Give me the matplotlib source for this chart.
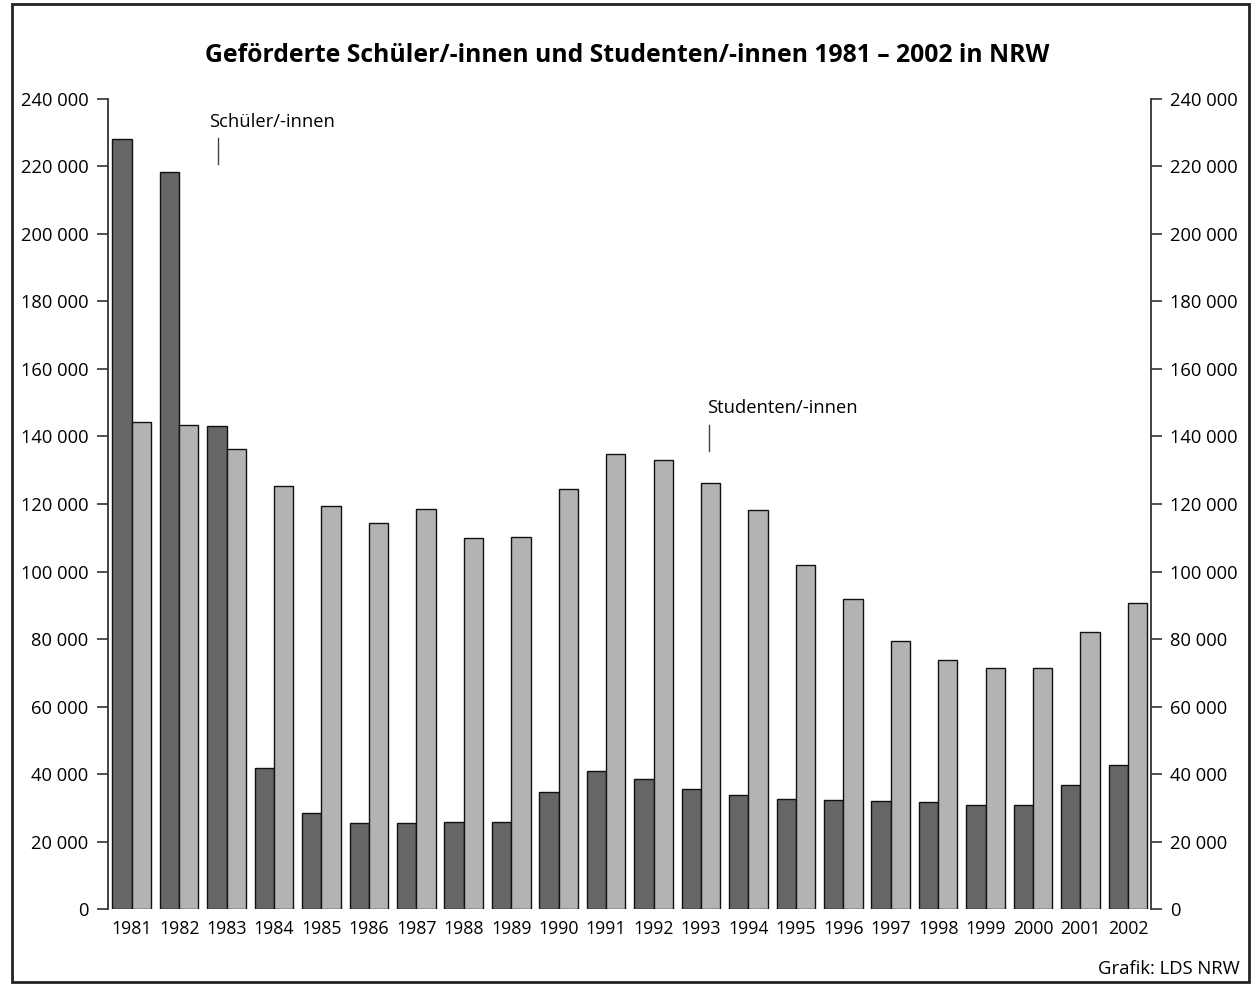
import matplotlib
matplotlib.use("Agg")
import matplotlib.pyplot as plt
from matplotlib.patches import Rectangle
import numpy as np

years = [str(y) for y in range(1981, 2003)]
schueler = [228000, 218200, 143100, 41800, 28600, 25500, 25500, 25900, 25800, 34600,
            40900, 38600, 35700, 33900, 32700, 32300, 32000, 31700, 30900, 30800,
            36700, 42800]
studenten = [144200, 143300, 136400, 125400, 119500, 114400, 118600, 110000, 110300, 124500,
             134700, 133100, 126100, 118300, 101900, 92000, 79500, 73700, 71500, 71400,
             82000, 90800]
yticks = list(range(0, 240001, 20000))
ytick_labels = [f"{v:,}".replace(",", " ") for v in yticks]

plt.rcParams['font.family'] = ['Open Sans', 'DejaVu Sans']

W, H = 1254, 985
fig = plt.figure(figsize=(W / 100, H / 100), dpi=100)

def fx(px):
    return px / W

def fy(py):
    return 1 - py / H

ax = fig.add_axes([fx(107.7), fy(909.3), fx(1150.7) - fx(107.7), fy(98.7) - fy(909.3)])

x = np.arange(len(years))
bw = 0.407
ax.bar(x - bw / 2, schueler, width=bw, color='#666666', edgecolor='#111111', linewidth=1.0, zorder=2)
ax.bar(x + bw / 2, studenten, width=bw, color='#b3b3b3', edgecolor='#111111', linewidth=1.0, zorder=2)

ax.set_xlim(-0.506, 21.48)
ax.set_ylim(0, 240000)
ax.set_yticks(yticks)
ax.set_yticklabels(ytick_labels)
ax.set_xticks(x)
ax.set_xticklabels(years)

for s in ['top', 'bottom']:
    ax.spines[s].set_visible(False)
for s in ['left', 'right']:
    ax.spines[s].set_color('#333333')
    ax.spines[s].set_linewidth(1.3)

ax.tick_params(axis='y', which='both', direction='out', length=8, width=1.2, color='#333333',
               labelsize=13.2, left=True, right=True, labelleft=True, labelright=True, pad=6)
ax.tick_params(axis='x', length=0, labelsize=12.8, pad=8)

# annotations
ax.text(1.64, 231600, 'Schüler/-innen', fontsize=13.2, ha='left', va='baseline')
ax.plot([1.825, 1.825], [220700, 228400], color='#444444', lw=1.0)
ax.text(12.12, 146900, 'Studenten/-innen', fontsize=13.2, ha='left', va='baseline')
ax.plot([12.175, 12.175], [135700, 143400], color='#444444', lw=1.0)

fig.text(0.5, fy(55), 'Geförderte Schüler/-innen und Studenten/-innen 1981 – 2002 in NRW',
         ha='center', va='center', fontsize=17.8, fontweight='bold')
fig.text(fx(1240), fy(969), 'Grafik: LDS NRW', ha='right', va='center', fontsize=13.3)

fig.patches.append(Rectangle((fx(12), fy(982)), fx(1249) - fx(12), fy(4) - fy(982),
                             transform=fig.transFigure, fill=False, edgecolor='#222222',
                             linewidth=2.0))

fig.savefig('out.png', dpi=100)
